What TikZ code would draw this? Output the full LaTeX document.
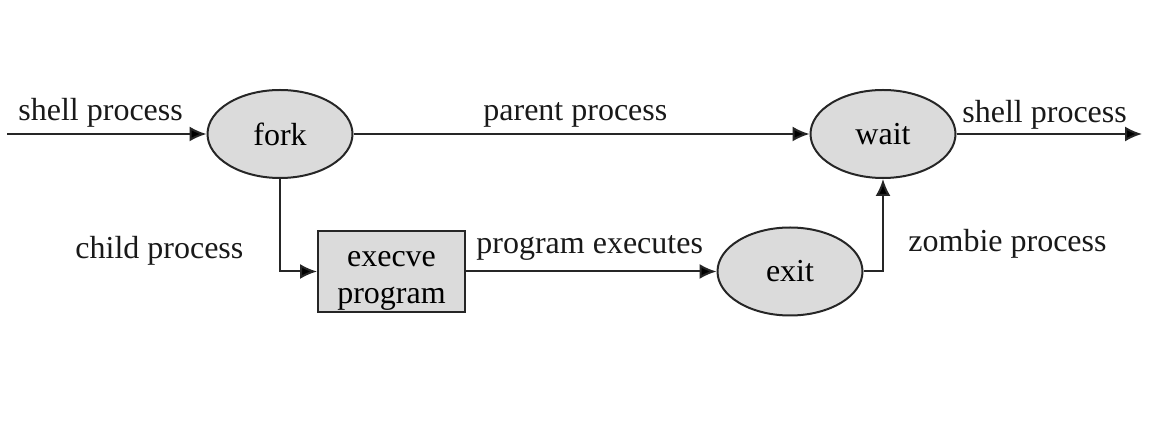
\documentclass[tikz,border=0pt]{standalone}
\usepackage{fontspec}
\setmainfont{Liberation Serif}
\usetikzlibrary{arrows.meta,shapes.geometric}
\begin{document}
\begin{tikzpicture}[x=0.5pt,y=-0.5pt,
  font=\fontsize{16pt}{18.5pt}\selectfont,
  proc/.style={ellipse,draw=black!85,line width=1pt,fill=black!14,minimum width=72.5pt,minimum height=44pt,inner sep=0pt},
  boxn/.style={rectangle,draw=black!85,line width=1pt,fill=black!14,minimum width=73.5pt,minimum height=40.5pt,inner sep=0pt},
  lab/.style={inner sep=0pt,text=black!90,anchor=base west},
  conn/.style={draw=black!85,line width=1pt,-{Latex[length=8.5pt,width=7.5pt,fill=black]}}]
\useasboundingbox (0,0) rectangle (1176,442);
\node[proc] (fork) at (280,134) {fork};
\node[proc] (wait) at (883,134) {wait};
\node[proc] (exit) at (790,271.5) {exit};
\node[boxn] (exec) at (391.5,271.5) {};
\node[inner sep=0pt,align=center] (exectext) at (391.5,281) {execve\\program};
\coordinate (in) at (7,134);
\coordinate (out) at (1142,134);
\draw[conn] (in) -- (fork);
\draw[conn] (fork) -- (wait);
\draw[conn] (wait) -- (out);
\draw[conn] (fork.south) |- (exec.west);
\draw[conn] (exec.east) -- (exit.west);
\draw[conn] (exit.east) -| (wait.south);
\node[lab] (l1) at (18,121) {shell process};
\node[lab] (l2) at (75,259) {child process};
\node[lab] (l3) at (483,121) {parent process};
\node[lab] (l4) at (476,254) {program executes};
\node[lab] (l5) at (962,123) {shell process};
\node[lab] (l6) at (908,252) {zombie process};
\end{tikzpicture}
\end{document}
